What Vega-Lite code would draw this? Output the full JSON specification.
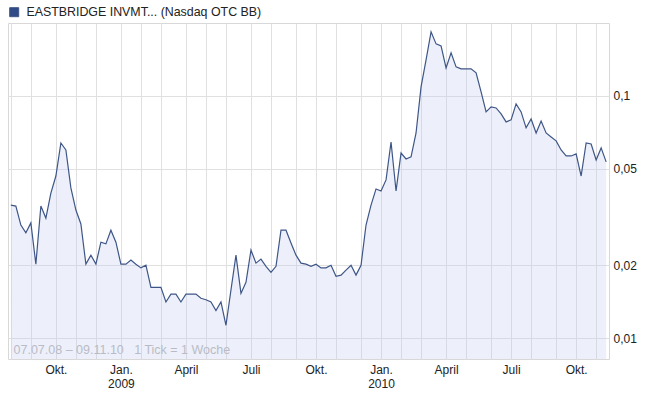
{
  "$schema": "https://vega.github.io/schema/vega-lite/v6.json",
  "width": 601,
  "height": 336,
  "autosize": {"type": "none"},
  "padding": {"left": 8, "top": 23, "right": 43, "bottom": 41},
  "background": "white",
  "config": {
    "font": "Liberation Sans",
    "view": {"stroke": "#d8d8d8", "strokeWidth": 1},
    "axis": {"labelFont": "Liberation Sans", "labelFontSize": 12, "labelColor": "#222222", "gridColor": "#e0e0e0", "gridWidth": 1, "domain": false, "ticks": false}
  },
  "data": {
    "values": [
      {"date": "2008-08-04", "price": 0.0354}, {"date": "2008-08-11", "price": 0.0351}, {"date": "2008-08-18", "price": 0.0293}, {"date": "2008-08-25", "price": 0.0272},
      {"date": "2008-09-01", "price": 0.0299}, {"date": "2008-09-08", "price": 0.0202}, {"date": "2008-09-15", "price": 0.0351}, {"date": "2008-09-22", "price": 0.0313},
      {"date": "2008-09-29", "price": 0.0397}, {"date": "2008-10-06", "price": 0.0467}, {"date": "2008-10-13", "price": 0.0639}, {"date": "2008-10-20", "price": 0.0598},
      {"date": "2008-10-27", "price": 0.0417}, {"date": "2008-11-03", "price": 0.0338}, {"date": "2008-11-10", "price": 0.0296}, {"date": "2008-11-17", "price": 0.0202},
      {"date": "2008-11-24", "price": 0.0220}, {"date": "2008-12-01", "price": 0.0202}, {"date": "2008-12-08", "price": 0.0249}, {"date": "2008-12-15", "price": 0.0245},
      {"date": "2008-12-22", "price": 0.0279}, {"date": "2008-12-29", "price": 0.0249}, {"date": "2009-01-05", "price": 0.0202}, {"date": "2009-01-12", "price": 0.0202},
      {"date": "2009-01-19", "price": 0.0210}, {"date": "2009-01-26", "price": 0.0202}, {"date": "2009-02-02", "price": 0.0195}, {"date": "2009-02-09", "price": 0.0200},
      {"date": "2009-02-16", "price": 0.0162}, {"date": "2009-02-23", "price": 0.0162}, {"date": "2009-03-02", "price": 0.0162}, {"date": "2009-03-09", "price": 0.0141},
      {"date": "2009-03-16", "price": 0.0152}, {"date": "2009-03-23", "price": 0.0152}, {"date": "2009-03-30", "price": 0.0141}, {"date": "2009-04-06", "price": 0.0152},
      {"date": "2009-04-13", "price": 0.0152}, {"date": "2009-04-20", "price": 0.0152}, {"date": "2009-04-27", "price": 0.0146}, {"date": "2009-05-04", "price": 0.0144},
      {"date": "2009-05-11", "price": 0.0141}, {"date": "2009-05-18", "price": 0.0130}, {"date": "2009-05-25", "price": 0.0141}, {"date": "2009-06-01", "price": 0.0113},
      {"date": "2009-06-08", "price": 0.0158}, {"date": "2009-06-15", "price": 0.0220}, {"date": "2009-06-22", "price": 0.0153}, {"date": "2009-06-29", "price": 0.0170},
      {"date": "2009-07-06", "price": 0.0231}, {"date": "2009-07-13", "price": 0.0204}, {"date": "2009-07-20", "price": 0.0212}, {"date": "2009-07-27", "price": 0.0198},
      {"date": "2009-08-03", "price": 0.0187}, {"date": "2009-08-10", "price": 0.0198}, {"date": "2009-08-17", "price": 0.0279}, {"date": "2009-08-24", "price": 0.0279},
      {"date": "2009-08-31", "price": 0.0247}, {"date": "2009-09-07", "price": 0.0220}, {"date": "2009-09-14", "price": 0.0204}, {"date": "2009-09-21", "price": 0.0202},
      {"date": "2009-09-28", "price": 0.0198}, {"date": "2009-10-05", "price": 0.0202}, {"date": "2009-10-12", "price": 0.0195}, {"date": "2009-10-19", "price": 0.0195},
      {"date": "2009-10-26", "price": 0.0200}, {"date": "2009-11-02", "price": 0.0180}, {"date": "2009-11-09", "price": 0.0182}, {"date": "2009-11-16", "price": 0.0191},
      {"date": "2009-11-23", "price": 0.0200}, {"date": "2009-11-30", "price": 0.0182}, {"date": "2009-12-07", "price": 0.0200}, {"date": "2009-12-14", "price": 0.0293},
      {"date": "2009-12-21", "price": 0.0354}, {"date": "2009-12-28", "price": 0.0413}, {"date": "2010-01-04", "price": 0.0405}, {"date": "2010-01-11", "price": 0.0450},
      {"date": "2010-01-18", "price": 0.0645}, {"date": "2010-01-25", "price": 0.0405}, {"date": "2010-02-01", "price": 0.0581}, {"date": "2010-02-08", "price": 0.0549},
      {"date": "2010-02-15", "price": 0.0560}, {"date": "2010-02-22", "price": 0.0703}, {"date": "2010-03-01", "price": 0.1089}, {"date": "2010-03-08", "price": 0.1409},
      {"date": "2010-03-15", "price": 0.1838}, {"date": "2010-03-22", "price": 0.1640}, {"date": "2010-03-29", "price": 0.1609}, {"date": "2010-04-05", "price": 0.1305},
      {"date": "2010-04-12", "price": 0.1506}, {"date": "2010-04-19", "price": 0.1318}, {"date": "2010-04-26", "price": 0.1293}, {"date": "2010-05-03", "price": 0.1293},
      {"date": "2010-05-10", "price": 0.1293}, {"date": "2010-05-17", "price": 0.1245}, {"date": "2010-05-24", "price": 0.1039}, {"date": "2010-05-31", "price": 0.0859},
      {"date": "2010-06-07", "price": 0.0901}, {"date": "2010-06-14", "price": 0.0892}, {"date": "2010-06-21", "price": 0.0843}, {"date": "2010-06-28", "price": 0.0781},
      {"date": "2010-07-05", "price": 0.0796}, {"date": "2010-07-12", "price": 0.0927}, {"date": "2010-07-19", "price": 0.0859}, {"date": "2010-07-26", "price": 0.0738},
      {"date": "2010-08-02", "price": 0.0803}, {"date": "2010-08-09", "price": 0.0703}, {"date": "2010-08-16", "price": 0.0788}, {"date": "2010-08-23", "price": 0.0703},
      {"date": "2010-08-30", "price": 0.0677}, {"date": "2010-09-06", "price": 0.0652}, {"date": "2010-09-13", "price": 0.0598}, {"date": "2010-09-20", "price": 0.0565},
      {"date": "2010-09-27", "price": 0.0565}, {"date": "2010-10-04", "price": 0.0576}, {"date": "2010-10-11", "price": 0.0467}, {"date": "2010-10-18", "price": 0.0639},
      {"date": "2010-10-25", "price": 0.0633}, {"date": "2010-11-01", "price": 0.0544}, {"date": "2010-11-08", "price": 0.0610}, {"date": "2010-11-15", "price": 0.0534}
    ]
  },
  "transform": [{"calculate": "'EASTBRIDGE INVMT... (Nasdaq OTC BB)'", "as": "name"}],
  "encoding": {
    "x": {
      "field": "date", "type": "temporal",
      "scale": {"type": "utc", "domain": ["2008-07-31", "2010-11-19"], "nice": false},
      "axis": {
        "orient": "bottom", "grid": true, "labelPadding": 5, "labelLineHeight": 14, "labelFlush": false, "labelOverlap": false,
        "values": [
          {"year": 2008, "month": 8, "date": 4, "utc": true}, {"year": 2008, "month": 9, "date": 1, "utc": true}, {"year": 2008, "month": 10, "date": 6, "utc": true},
          {"year": 2008, "month": 11, "date": 3, "utc": true}, {"year": 2008, "month": 12, "date": 1, "utc": true}, {"year": 2009, "month": 1, "date": 5, "utc": true},
          {"year": 2009, "month": 2, "date": 2, "utc": true}, {"year": 2009, "month": 3, "date": 2, "utc": true}, {"year": 2009, "month": 4, "date": 6, "utc": true},
          {"year": 2009, "month": 5, "date": 4, "utc": true}, {"year": 2009, "month": 6, "date": 1, "utc": true}, {"year": 2009, "month": 7, "date": 6, "utc": true},
          {"year": 2009, "month": 8, "date": 3, "utc": true}, {"year": 2009, "month": 9, "date": 7, "utc": true}, {"year": 2009, "month": 10, "date": 5, "utc": true},
          {"year": 2009, "month": 11, "date": 2, "utc": true}, {"year": 2009, "month": 12, "date": 7, "utc": true}, {"year": 2010, "month": 1, "date": 4, "utc": true},
          {"year": 2010, "month": 2, "date": 1, "utc": true}, {"year": 2010, "month": 3, "date": 1, "utc": true}, {"year": 2010, "month": 4, "date": 5, "utc": true},
          {"year": 2010, "month": 5, "date": 3, "utc": true}, {"year": 2010, "month": 6, "date": 7, "utc": true}, {"year": 2010, "month": 7, "date": 5, "utc": true},
          {"year": 2010, "month": 8, "date": 2, "utc": true}, {"year": 2010, "month": 9, "date": 6, "utc": true}, {"year": 2010, "month": 10, "date": 4, "utc": true},
          {"year": 2010, "month": 11, "date": 1, "utc": true}
        ],
        "labelExpr": "utcmonth(datum.value) == 9 ? 'Okt.' : utcmonth(datum.value) == 0 ? ['Jan.', '' + utcyear(datum.value)] : utcmonth(datum.value) == 3 ? 'April' : utcmonth(datum.value) == 6 ? 'Juli' : ''",
        "title": "07.07.08 – 09.11.10\u00a0\u00a0\u00a01 Tick = 1 Woche",
        "titleAnchor": "start", "titleX": 5, "titleY": -3, "titleBaseline": "bottom",
        "titleFont": "Liberation Sans", "titleFontSize": 12.5, "titleFontWeight": "normal", "titleColor": "#b4b4b4"
      }
    },
    "y": {
      "field": "price", "type": "quantitative",
      "scale": {"type": "log", "domain": [0.0082, 0.2], "nice": false, "zero": false},
      "axis": {
        "orient": "right", "grid": true, "values": [0.01, 0.02, 0.05, 0.1], "labelPadding": 4,
        "labelExpr": "replace(format(datum.value, '~g'), '.', ',')", "title": null
      }
    }
  },
  "layer": [
    {
      "mark": {"type": "area", "color": "#c3cdee", "opacity": 0.3},
      "encoding": {"y2": {"datum": 0.0082}}
    },
    {
      "mark": {"type": "line", "strokeWidth": 1.2, "interpolate": "linear"},
      "encoding": {
        "color": {
          "field": "name", "type": "nominal",
          "scale": {"range": ["#3e5687"]},
          "legend": {
            "title": null, "orient": "none", "legendX": 0, "legendY": -17,
            "symbolType": "square", "symbolSize": 81, "symbolStrokeWidth": 1,
            "labelFont": "Liberation Sans", "labelFontSize": 12.4, "labelColor": "#222222", "labelLimit": 400, "labelOffset": 6,
            "encode": {"symbols": {"update": {"fill": {"value": "#2f4a86"}, "stroke": {"value": "#1e2f55"}}}}
          }
        }
      }
    }
  ]
}
